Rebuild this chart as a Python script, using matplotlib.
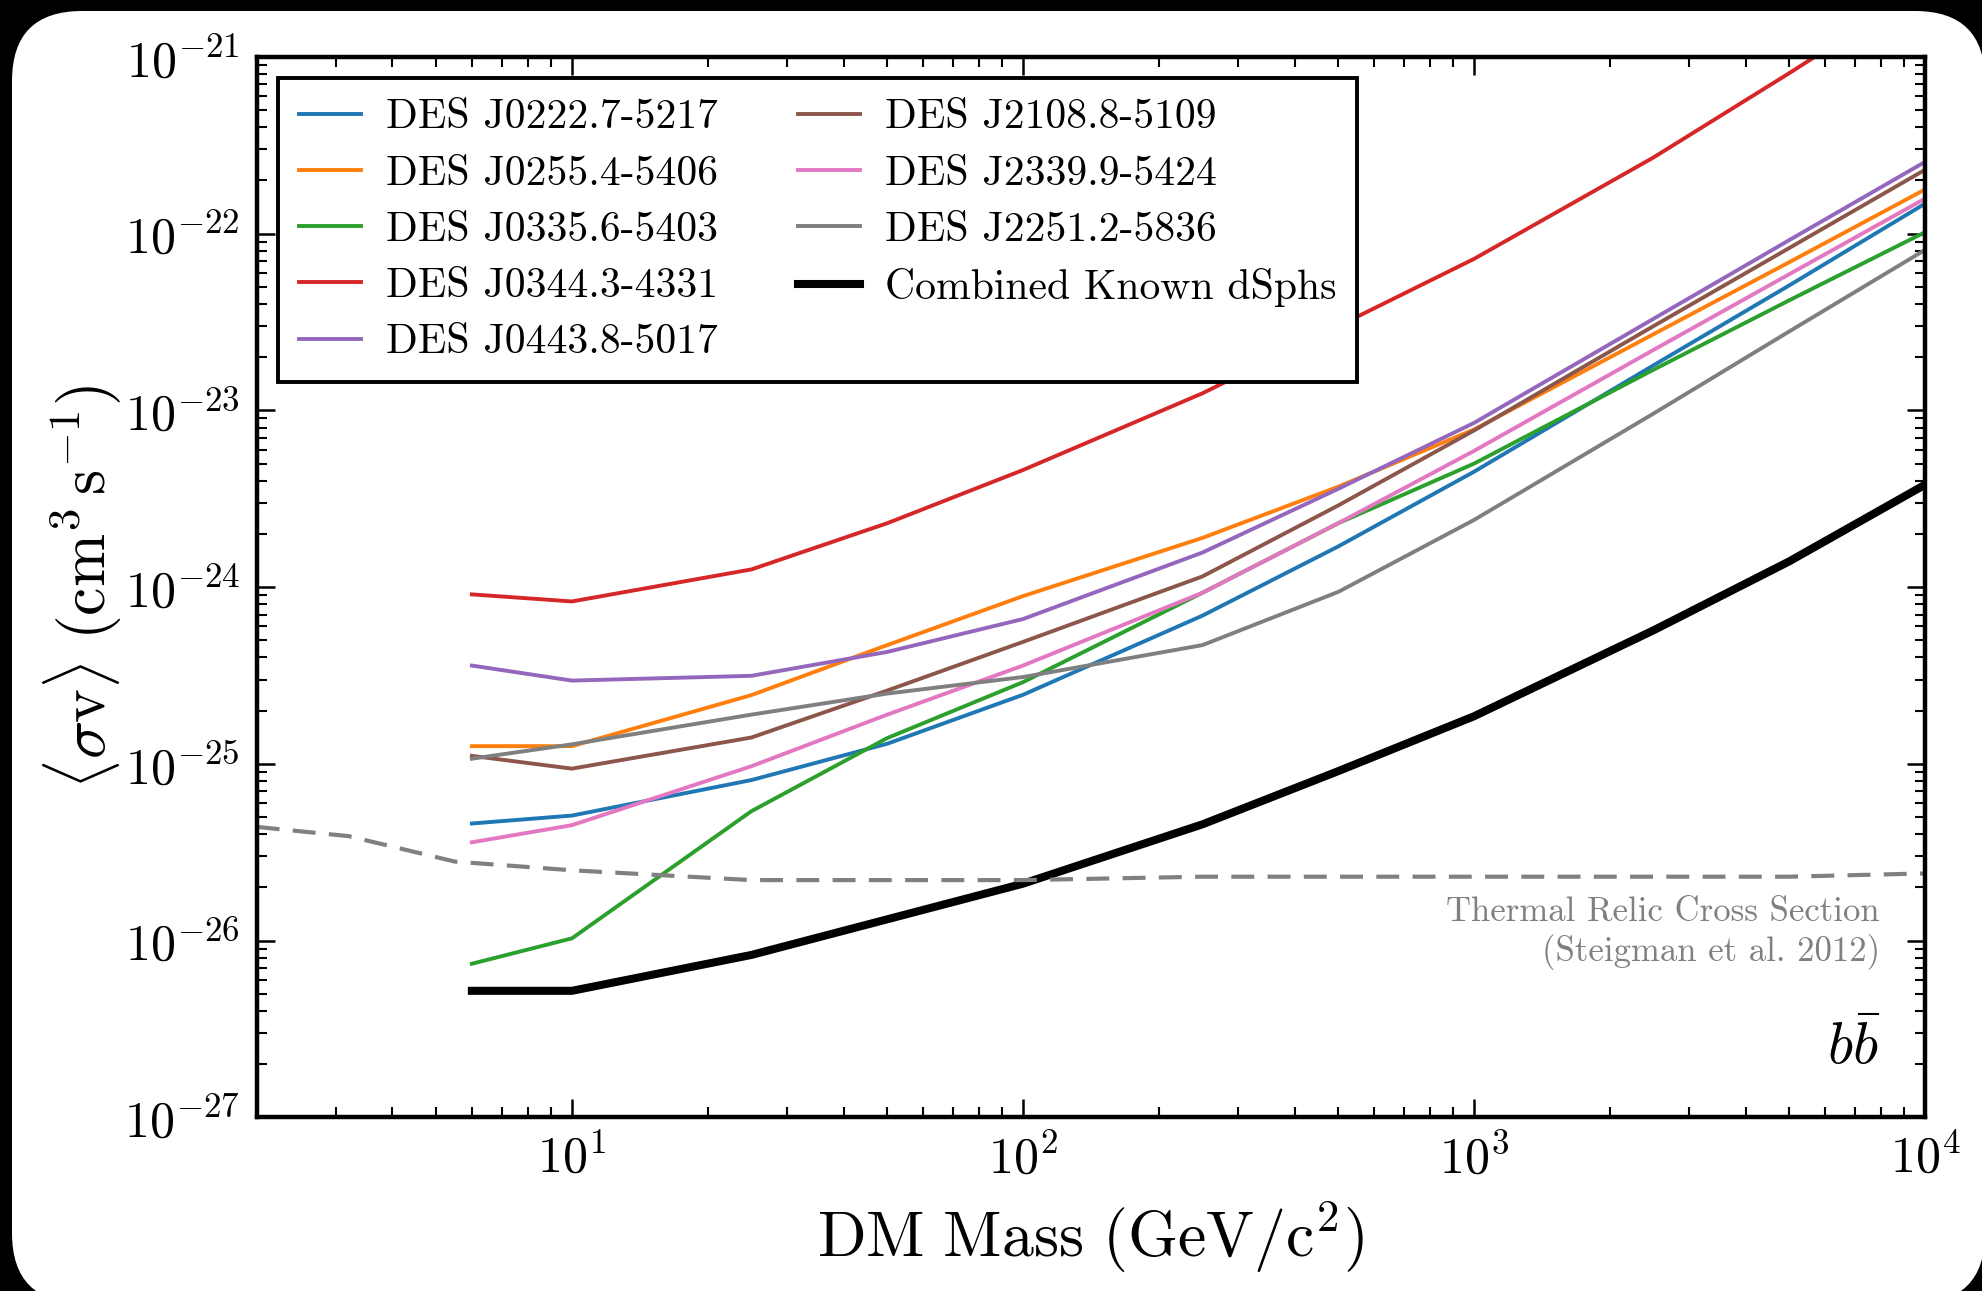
import numpy as np
import matplotlib
matplotlib.use("Agg")
import matplotlib.pyplot as plt
import matplotlib.patches as mpatches

plt.rcParams['mathtext.fontset'] = 'cm'
plt.rcParams['font.family'] = 'serif'
plt.rcParams['font.serif'] = ['cmr10', 'DejaVu Serif']
plt.rcParams['axes.formatter.use_mathtext'] = True
plt.rcParams['axes.unicode_minus'] = False

# DM masses (GeV/c^2)
mass = [6, 10, 25, 50, 100, 250, 500, 1000, 2500, 5000, 10000]

# upper limits on <sigma v> (cm^3 s^-1)
j0222 = [4.6e-26, 5.1e-26, 8.1e-26, 1.3e-25, 2.46e-25, 6.9e-25, 1.7e-24, 4.5e-24, 1.8e-23, 5.1e-23, 1.48e-22]
j0255 = [1.26e-25, 1.26e-25, 2.45e-25, 4.7e-25, 8.9e-25, 1.9e-24, 3.7e-24, 7.8e-24, 2.7e-23, 6.9e-23, 1.78e-22]
j0335 = [7.4e-27, 1.03e-26, 5.4e-26, 1.4e-25, 2.9e-25, 9.3e-25, 2.3e-24, 5.0e-24, 1.7e-23, 4.2e-23, 1.02e-22]
j0344 = [9.1e-25, 8.3e-25, 1.26e-24, 2.3e-24, 4.6e-24, 1.25e-23, 3.0e-23, 7.2e-23, 2.7e-22, 8.1e-22, 2.5e-21]
j0443 = [3.6e-25, 2.96e-25, 3.15e-25, 4.3e-25, 6.6e-25, 1.57e-24, 3.6e-24, 8.5e-24, 3.3e-23, 9.2e-23, 2.55e-22]
j2108 = [1.11e-25, 9.4e-26, 1.41e-25, 2.6e-25, 4.9e-25, 1.15e-24, 2.9e-24, 7.7e-24, 3.0e-23, 8.3e-23, 2.3e-22]
j2339 = [3.6e-26, 4.5e-26, 9.7e-26, 1.9e-25, 3.6e-25, 9.3e-25, 2.3e-24, 5.9e-24, 2.2e-23, 5.9e-23, 1.58e-22]
j2251 = [1.07e-25, 1.29e-25, 1.9e-25, 2.5e-25, 3.1e-25, 4.7e-25, 9.4e-25, 2.4e-24, 9.6e-24, 2.8e-23, 8.1e-23]
combined = [5.2e-27, 5.2e-27, 8.3e-27, 1.32e-26, 2.1e-26, 4.55e-26, 9.1e-26, 1.86e-25, 5.7e-25, 1.4e-24, 3.8e-24]

labels = ['DES J0222.7-5217', 'DES J0255.4-5406', 'DES J0335.6-5403',
          'DES J0344.3-4331', 'DES J0443.8-5017', 'DES J2108.8-5109',
          'DES J2339.9-5424', 'DES J2251.2-5836']
colors = ['#1f77b4', '#ff7f0e', '#2ca02c', '#d62728', '#9467bd',
          '#8c564b', '#e377c2', '#7f7f7f']

# thermal relic cross section (Steigman et al. 2012)
relic_mass = [2, 3.2, 5.5, 10, 25, 50, 100, 250, 500, 1000, 2500, 5000, 10000]
relic_sv = [4.4e-26, 3.9e-26, 2.8e-26, 2.5e-26, 2.2e-26, 2.2e-26, 2.2e-26,
            2.3e-26, 2.3e-26, 2.3e-26, 2.3e-26, 2.3e-26, 2.4e-26]

xticks = [1e1, 1e2, 1e3, 1e4]
yticks = [1e-27, 1e-26, 1e-25, 1e-24, 1e-23, 1e-22, 1e-21]

fig = plt.figure(figsize=(19.82, 12.91), dpi=100, facecolor='black')
# white rounded panel on the black background
panel = mpatches.FancyBboxPatch((12, -12), 1973, 1292,
                                boxstyle='round,pad=0,rounding_size=70',
                                transform=None, facecolor='white',
                                edgecolor='none', zorder=-10)
fig.patches.append(panel)

ax = fig.add_axes([0.1295, 0.1345, 0.8418, 0.8214])
ax.set_facecolor('white')

series = [j0222, j0255, j0335, j0344, j0443, j2108, j2339, j2251]
for vals, lab, col in zip(series, labels, colors):
    ax.plot(mass, vals, color=col, lw=2.8, label=lab)
ax.plot(mass, combined, color='black', lw=5.8, label='Combined Known dSphs')
ax.plot(relic_mass, relic_sv, color='gray', lw=3.0, ls='--', dashes=(5.5, 3.2))

ax.set_xscale('log')
ax.set_yscale('log')
ax.set_xticks(xticks)
ax.set_yticks(yticks)
ax.set_xlim(2, 1e4)
ax.set_ylim(1e-27, 1e-21)

ax.set_xlabel(r'$\mathrm{DM\ Mass\ (GeV/c^2)}$', fontsize=46, labelpad=12)
ax.set_ylabel(r'$\langle \sigma \mathrm{v} \rangle\ (\mathrm{cm^3\,s^{-1}})$',
              fontsize=46, labelpad=0)

ax.tick_params(which='both', direction='in', top=True, right=True,
               labelsize=36)
ax.tick_params(which='major', length=13, width=1.8, pad=12)
ax.tick_params(which='minor', length=7, width=1.5)
for sp in ax.spines.values():
    sp.set_linewidth(3.2)

leg = ax.legend(ncol=2, loc='upper left', bbox_to_anchor=(0.0128, 0.98),
                borderaxespad=0, fontsize=30, frameon=True, fancybox=False,
                framealpha=1, handlelength=1.5, handletextpad=0.6,
                columnspacing=1.9, labelspacing=0.45, borderpad=0.5)
leg.get_frame().set_edgecolor('black')
leg.get_frame().set_linewidth(2.8)

ax.text(0.973, 0.208, 'Thermal Relic Cross Section\n(Steigman et al. 2012)',
        transform=ax.transAxes, ha='right', va='top', color='gray',
        fontsize=25, linespacing=1.2)
ax.text(0.973, 0.066, r'$b\bar{b}$', transform=ax.transAxes, ha='right',
        va='center', fontsize=42)

fig.savefig('out.png', dpi=100, facecolor='black')
